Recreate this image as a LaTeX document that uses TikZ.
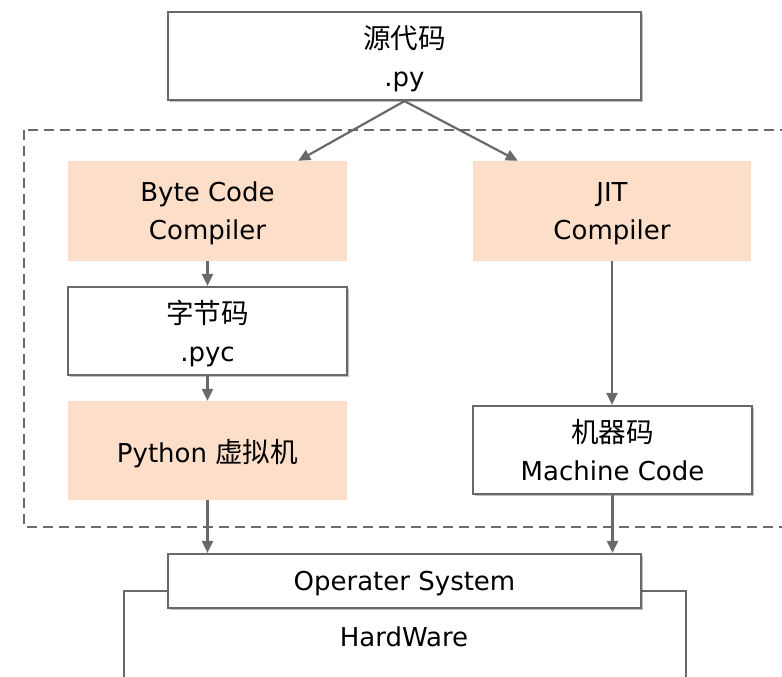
\documentclass[tikz,border=0pt]{standalone}
\usepackage{fontspec}
\setmainfont{DejaVu Sans}
\newfontfamily\cjk[Scale=1.06]{Noto Sans CJK SC}
\usetikzlibrary{arrows.meta,shadows,calc}
\definecolor{peach}{RGB}{253,222,200}
\definecolor{edge}{RGB}{105,105,105}
\begin{document}
\begin{tikzpicture}[x=1pt,y=-1pt,
  txt/.style={align=center,font=\fontsize{26}{38}\selectfont,inner sep=0pt,text depth=-4pt},
  plainbox/.style={txt,draw=edge,line width=2.2pt,fill=white,
    drop shadow={shadow xshift=1.5pt,shadow yshift=-2pt,opacity=0.25,fill=black}},
  stagebox/.style={txt,fill=peach},
  flow/.style={draw=edge,line width=2.2pt,-{Triangle[length=12pt,width=11pt]}},
  wire/.style={draw=edge,line width=2.2pt}]
\useasboundingbox (0,0) rectangle (782,677);

% dashed interpreter region
\draw[edge,line width=2.4pt,dash pattern=on 10pt off 6pt] (24,130) rectangle (810,527);

% source file
\node[plainbox,minimum width=473pt,minimum height=88pt] (src) at (404.5,56)
  {{\cjk 源代码}\\.py};

% byte-code path
\node[stagebox,minimum width=279pt,minimum height=100pt] (bcc) at (207.5,211)
  {Byte Code\\Compiler};
\node[plainbox,minimum width=279pt,minimum height=88pt] (pyc) at (207.5,331)
  {{\cjk 字节码}\\.pyc};
\node[stagebox,minimum width=279pt,minimum height=99pt] (pvm) at (207.5,450.5)
  {Python {\cjk 虚拟机}};

% JIT path
\node[stagebox,minimum width=278pt,minimum height=100pt] (jit) at (612,211)
  {JIT\\Compiler};
\node[plainbox,minimum width=279pt,minimum height=88pt] (mc) at (612.5,450)
  {{\cjk 机器码}\\Machine Code};

% hardware outline behind the OS box
\coordinate (hwl) at (124,677);
\coordinate (hwr) at (686,677);
\draw[wire] (hwl) -- (124,591) -- (168,591);
\draw[wire] (641,591) -- (686,591) -- (hwr);
\node[txt] (hw) at (404,637) {HardWare};

% operating system
\node[plainbox,minimum width=473pt,minimum height=54pt] (os) at (404.5,581)
  {Operater System};

% connectors
\draw[flow] (src.south) -- ([xshift=-49pt]bcc.north east);
\draw[flow] (src.south) -- ([xshift=45pt]jit.north west);
\draw[flow] (bcc.south) -- (pyc.north);
\draw[flow] (pyc.south) -- (pvm.north);
\draw[flow] (jit.south) -- (jit.south |- mc.north);
\draw[flow] (pvm.south) -- (pvm.south |- os.north);
\draw[flow] (mc.south) -- (mc.south |- os.north);
\end{tikzpicture}
\end{document}
